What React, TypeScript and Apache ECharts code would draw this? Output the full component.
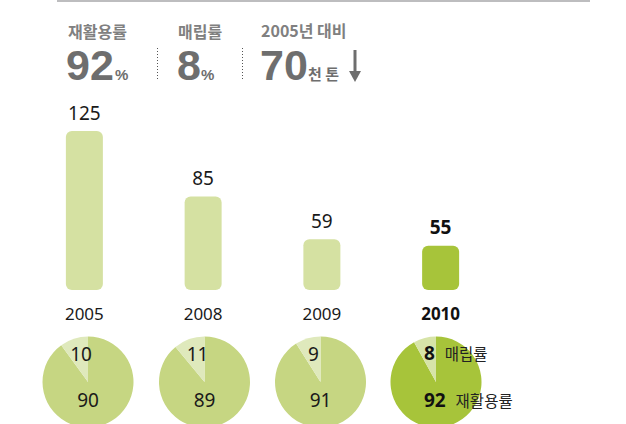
import React, { useEffect, useRef } from "react";
import * as echarts from "echarts";

const years = ["2005", "2008", "2009", "2010"];
const landfillAmount = [125, 85, 59, 55];
const recycleRate = [90, 89, 91, 92];
const landfillRate = [10, 11, 9, 8];
const highlightIndex = 3;
const headerRecycle = 92;
const headerLandfill = 8;
const headerReduction = 70;

const FONT = "'Noto Sans', 'Noto Sans CJK KR', sans-serif";
const KFONT = "'Noto Sans CJK KR', 'Noto Sans', sans-serif";
const HFONT = "'Liberation Sans', Arial, sans-serif";

const pieCenters = [88, 204.5, 320.5, 436];
const pieCY = 382;

export default function App() {
  const ref = useRef<HTMLDivElement>(null);
  useEffect(() => {
    const chart = echarts.init(ref.current!, undefined, { renderer: "svg" });

    const pieSeries = years.map((y, i) => {
      const hl = i === highlightIndex;
      const cx = pieCenters[i];
      return {
        type: "pie",
        center: [cx, pieCY],
        radius: 45.5,
        startAngle: 90,
        clockwise: true,
        silent: true,
        data: [
          { name: "재활용률", value: recycleRate[i], itemStyle: { color: hl ? "#a7c43a" : "#c6d682" } },
          { name: "매립률", value: landfillRate[i], itemStyle: { color: hl ? "#d7e4a8" : "#dfe9bc" } },
        ],
        label: {
          show: true,
          position: "inside",
          color: "#1a1a1a",
          fontFamily: FONT,
          fontSize: 19,
          formatter: hl ? "{v|{c}}  {n|{b}}" : "{c}",
          rich: hl
            ? {
                v: { fontFamily: FONT, fontSize: 19, fontWeight: "bold", color: "#111" },
                n: { fontFamily: KFONT, fontSize: 15.5, color: "#222" },
              }
            : undefined,
        },
        labelLine: { show: false },
        labelLayout: (p: any) => {
          const small = p.dataIndex === 1;
          if (hl) {
            return { x: cx - 12, y: small ? 353 : 400, align: "left", verticalAlign: "middle" };
          }
          return { x: small ? cx - 7 : cx, y: small ? 354 : 400, align: "center", verticalAlign: "middle" };
        },
        itemStyle: { borderWidth: 0 },
      };
    });

    const dotted = (x: number) => ({
      type: "line",
      shape: { x1: x, y1: 48, x2: x, y2: 81 },
      style: { stroke: "#555", lineWidth: 1, lineDash: [1, 2] },
    });

    chart.setOption({
      animation: false,
      grid: { left: 25, right: 126, top: 131, bottom: 134 },
      xAxis: {
        type: "category",
        data: years.map((y, i) => ({
          value: y,
          textStyle: i === highlightIndex ? { fontWeight: "bold", color: "#111" } : {},
        })),
        axisLine: { show: false },
        axisTick: { show: false },
        axisLabel: { fontFamily: FONT, fontSize: 17, color: "#1a1a1a", margin: 15 },
      },
      yAxis: { type: "value", min: 28, max: 125, show: false },
      series: [
        {
          type: "bar",
          barWidth: 37,
          data: landfillAmount.map((v, i) => ({
            value: v,
            itemStyle: { color: i === highlightIndex ? "#a7c43a" : "#d5e1a2" },
            label: i === highlightIndex ? { fontWeight: "bold", color: "#111" } : {},
          })),
          itemStyle: { borderRadius: 6 },
          label: {
            show: true,
            position: "top",
            distance: 9,
            fontFamily: FONT,
            fontSize: 19,
            color: "#1a1a1a",
          },
        },
        ...pieSeries,
      ],
      graphic: [
        { type: "rect", shape: { x: 57, y: 0, width: 533, height: 2 }, style: { fill: "#bdbdbf" } },
        { type: "text", x: 68, y: 31, style: { text: "재활용률", font: `bold 16px ${KFONT}`, fill: "#808080", verticalAlign: "middle" } },
        { type: "text", x: 66, y: 65, style: { text: String(headerRecycle), font: `bold 43px ${HFONT}`, fill: "#6e6e6e", verticalAlign: "middle" } },
        { type: "text", x: 115, y: 74, style: { text: "%", font: `bold 15px ${HFONT}`, fill: "#6e6e6e", verticalAlign: "middle" } },
        dotted(157.5),
        { type: "text", x: 178, y: 31, style: { text: "매립률", font: `bold 16px ${KFONT}`, fill: "#808080", verticalAlign: "middle" } },
        { type: "text", x: 177, y: 65, style: { text: String(headerLandfill), font: `bold 43px ${HFONT}`, fill: "#6e6e6e", verticalAlign: "middle" } },
        { type: "text", x: 201, y: 74, style: { text: "%", font: `bold 15px ${HFONT}`, fill: "#6e6e6e", verticalAlign: "middle" } },
        dotted(242.5),
        { type: "text", x: 261, y: 30, style: { text: "2005년 대비", font: `bold 16px ${KFONT}`, fill: "#808080", verticalAlign: "middle" } },
        { type: "text", x: 260, y: 65, style: { text: String(headerReduction), font: `bold 43px ${HFONT}`, fill: "#6e6e6e", verticalAlign: "middle" } },
        { type: "text", x: 308, y: 73, style: { text: "천 톤", font: `bold 15px ${KFONT}`, fill: "#6e6e6e", verticalAlign: "middle" } },
        { type: "line", shape: { x1: 355, y1: 50, x2: 355, y2: 74 }, style: { stroke: "#6e6e6e", lineWidth: 3 } },
        { type: "polygon", shape: { points: [[349, 71], [361, 71], [355, 82]] }, style: { fill: "#6e6e6e" } },
      ],
    });
    return () => chart.dispose();
  }, []);
  return (
    <div
      ref={ref}
      style={{ position: "fixed", left: 0, top: 0, width: 626, height: 424, background: "#fff" }}
    />
  );
}
